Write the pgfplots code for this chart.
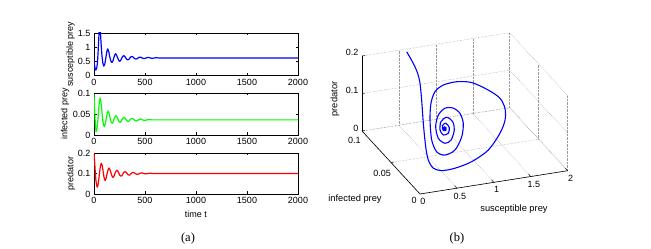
\documentclass[border=0pt]{standalone}
\usepackage{fontspec}
\setmainfont{Liberation Sans}
\newfontfamily\seriffont{Liberation Serif}
\usepackage{pgfplots}
\pgfplotsset{compat=1.18}
\definecolor{mblue}{RGB}{0,0,255}
\definecolor{mgreen}{RGB}{0,255,0}
\definecolor{mred}{RGB}{255,0,0}
\pgfplotsset{
  ts/.style={scale only axis, width=204pt, anchor=south west,
    xmin=0, xmax=2000, xtick={0,500,1000,1500,2000},
    xticklabels={0,500,1000,1500,2000},
    tick align=inside, major tick length=2.5pt,
    axis line style={line width=0.6pt},
    every tick/.style={black, line width=0.5pt},
    ticklabel style={font=\fontsize{9}{10}\selectfont},
    label style={font=\fontsize{9}{10}\selectfont},
    /pgf/number format/assume math mode=true,
    clip=true},
}
\begin{document}
\begin{tikzpicture}[x=1pt,y=1pt]
\useasboundingbox (0,0) rectangle (651,249);
% ---- panel (a): susceptible prey
\begin{axis}[ts, at={(94pt,173.5pt)}, height=42.5pt,
  ymin=0, ymax=1.5, ytick={0,0.5,1,1.5}, yticklabels={0,0.5,1,1.5},
  ylabel={susceptible prey},
  ylabel style={at={(axis description cs:-0.115,0.5)}, anchor=center, rotate=0}]
\addplot[mblue, line width=1.2pt, line join=round] coordinates {
(0,0.55)(6,0.35)(12,0.23)(18,0.19)(26,0.25)(34,0.45)(42,0.95)(50,1.55)(56,1.75)(62,1.6)
(70,1.1)(78,0.7)(86,0.45)(96,0.33)(106,0.4)(116,0.62)(126,0.85)(135,0.94)(145,0.84)(155,0.65)
(166,0.5)(176,0.46)(186,0.52)(196,0.64)(204,0.73)(212,0.77)(222,0.71)(232,0.62)(243,0.53)(253,0.50)
(263,0.54)(273,0.62)(283,0.68)(292,0.70)(302,0.67)(312,0.62)(322,0.57)(332,0.55)(342,0.57)(352,0.62)
(362,0.66)(372,0.67)(382,0.655)(392,0.62)(402,0.59)(412,0.58)(422,0.59)(432,0.62)(442,0.64)(452,0.645)
(462,0.64)(472,0.62)(482,0.605)(492,0.6)(502,0.605)(512,0.62)(522,0.632)(532,0.634)(542,0.632)(552,0.62)
(562,0.612)(572,0.61)(582,0.612)(592,0.62)(610,0.626)(630,0.62)(650,0.616)(670,0.62)(2000,0.62)};
\end{axis}
% ---- infected prey
\begin{axis}[ts, at={(94pt,114pt)}, height=42pt,
  ymin=0, ymax=0.1, ytick={0,0.05,0.1}, yticklabels={0,0.05,0.1},
  ylabel={infected prey},
  ylabel style={at={(axis description cs:-0.142,0.5)}, anchor=center, rotate=0}]
\addplot[mgreen, line width=1.2pt, line join=round] coordinates {
(0,0.097)(5,0.07)(10,0.04)(15,0.02)(21,0.008)(28,0.012)(36,0.03)(44,0.055)(52,0.078)(60,0.088)
(68,0.08)(76,0.06)(86,0.035)(95,0.022)(103,0.02)(112,0.028)(122,0.042)(131,0.053)(139,0.057)(148,0.052)
(158,0.04)(168,0.031)(178,0.028)(188,0.031)(198,0.039)(208,0.045)(217,0.046)(227,0.042)(237,0.036)(247,0.031)
(257,0.030)(267,0.033)(277,0.038)(287,0.041)(296,0.042)(306,0.04)(316,0.036)(326,0.033)(336,0.032)(346,0.034)
(356,0.037)(366,0.039)(376,0.039)(386,0.038)(396,0.036)(406,0.034)(416,0.0335)(426,0.034)(436,0.036)(446,0.0375)
(456,0.038)(466,0.0375)(476,0.036)(490,0.035)(505,0.035)(520,0.036)(535,0.0367)(550,0.0365)(565,0.036)(2000,0.036)};
\end{axis}
% ---- predator
\begin{axis}[ts, at={(94pt,55pt)}, height=41pt,
  ymin=0, ymax=0.2, ytick={0,0.1,0.2}, yticklabels={0,0.1,0.2},
  ylabel={predator}, xlabel={time t},
  ylabel style={at={(axis description cs:-0.113,0.5)}, anchor=center, rotate=0}]
\addplot[mred, line width=1.2pt, line join=round] coordinates {
(0,0.2)(6,0.16)(12,0.11)(18,0.07)(25,0.045)(32,0.033)(40,0.045)(48,0.075)(56,0.11)(64,0.14)
(72,0.15)(80,0.14)(88,0.115)(97,0.085)(104,0.07)(110,0.066)(118,0.075)(128,0.098)(138,0.118)(147,0.127)
(156,0.12)(166,0.104)(176,0.088)(186,0.081)(196,0.087)(205,0.1)(215,0.111)(225,0.116)(235,0.111)(245,0.1)
(255,0.09)(265,0.087)(275,0.09)(285,0.1)(295,0.107)(305,0.109)(315,0.106)(325,0.1)(335,0.094)(345,0.092)
(355,0.094)(365,0.1)(375,0.104)(385,0.105)(395,0.103)(405,0.1)(415,0.097)(425,0.096)(435,0.097)(445,0.1)
(455,0.102)(465,0.1025)(475,0.102)(485,0.1)(500,0.0985)(515,0.0985)(530,0.1)(545,0.101)(560,0.101)(575,0.1)(2000,0.1)};
\end{axis}
% ---- panel (b): phase portrait
\begin{axis}[at={(420pt,55pt)}, anchor=origin,
  x={(73.85pt,11.65pt)}, y={(-580pt,630pt)}, z={(0pt,375pt)},
  xmin=0, xmax=2, ymin=0, ymax=0.1, zmin=0, zmax=0.2,
  xtick={0,0.5,1,1.5,2}, xticklabels={0,0.5,1,1.5,2},
  ytick={0,0.05,0.1}, yticklabels={0,0.05,0.1},
  ztick={0,0.1,0.2}, zticklabels={0,0.1,0.2},
  grid=major, major grid style={densely dotted, black!40, line width=0.5pt},
  axis line style={draw=none},
  major tick length=0pt,
  ticklabel style={font=\fontsize{9}{10}\selectfont},
  /pgf/number format/assume math mode=true,
  clip=false]
\draw[black, line width=0.6pt] (axis cs:0,0,0) -- (axis cs:2,0,0);
\draw[black, line width=0.6pt] (axis cs:0,0,0) -- (axis cs:0,0.1,0);
\draw[black, line width=0.6pt] (axis cs:0,0.1,0) -- (axis cs:0,0.1,0.2);
% tick marks on the three labelled axes
\draw[black, line width=0.5pt] (axis cs:0.5,0,0) -- (axis cs:0.5,0.004,0);
\draw[black, line width=0.5pt] (axis cs:1,0,0) -- (axis cs:1,0.004,0);
\draw[black, line width=0.5pt] (axis cs:1.5,0,0) -- (axis cs:1.5,0.004,0);
\draw[black, line width=0.5pt] (axis cs:2,0,0) -- (axis cs:2,0.004,0);
\draw[black, line width=0.5pt] (axis cs:0,0.05,0) -- (axis cs:0.04,0.05,0);
\draw[black, line width=0.5pt] (axis cs:0,0.1,0) -- (axis cs:0.04,0.1,0);
\draw[black, line width=0.5pt] (axis cs:0,0.1,0.1) -- (axis cs:0.04,0.1,0.1);
\draw[black, line width=0.5pt] (axis cs:0,0.1,0.2) -- (axis cs:0.04,0.1,0.2);
\addplot3[mblue, line width=1.1pt, smooth, tension=0.5] coordinates {
(0.582,0.097,0.198)(0.600,0.088,0.182)(0.558,0.075,0.178)(0.487,0.062,0.176)(0.376,0.045,0.163)
(0.265,0.028,0.133)(0.187,0.014,0.097)(0.175,0.008,0.072)(0.243,0.008,0.048)(0.372,0.010,0.034)
(0.576,0.013,0.029)(0.857,0.020,0.026)(1.176,0.032,0.027)(1.460,0.048,0.036)(1.646,0.063,0.040)
(1.740,0.075,0.048)(1.735,0.083,0.062)(1.608,0.087,0.081)(1.375,0.086,0.110)(1.125,0.080,0.130)
(0.865,0.070,0.146)(0.659,0.058,0.155)(0.510,0.046,0.149)(0.387,0.032,0.132)(0.331,0.022,0.097)
(0.383,0.020,0.067)(0.519,0.023,0.049)(0.710,0.030,0.045)(0.879,0.040,0.058)(0.963,0.048,0.078)
(0.950,0.052,0.098)(0.867,0.053,0.113)(0.731,0.050,0.122)(0.586,0.043,0.120)(0.487,0.035,0.106)
(0.476,0.029,0.085)(0.566,0.029,0.069)(0.671,0.032,0.069)(0.763,0.038,0.083)(0.773,0.042,0.098)
(0.691,0.042,0.1125)(0.583,0.038,0.111)(0.538,0.034,0.097)(0.575,0.033,0.084)(0.658,0.035,0.083)
(0.695,0.038,0.092)(0.646,0.038,0.105)(0.585,0.036,0.103)(0.586,0.035,0.094)(0.628,0.036,0.089)
(0.643,0.037,0.094)(0.6145,0.036,0.0996)(0.5915,0.036,0.0963)(0.612,0.036,0.0912)(0.628,0.036,0.0947)
(0.6145,0.036,0.0975)(0.601,0.036,0.0953)(0.612,0.036,0.0928)(0.618,0.036,0.0942)(0.612,0.036,0.0946)};
\end{axis}
\node[font=\fontsize{9.3}{10}\selectfont] at (514,40) {susceptible prey};
\node[font=\fontsize{9.3}{10}\selectfont] at (355,50) {infected prey};
\node[font=\fontsize{9.3}{10}\selectfont, rotate=90] at (335,150) {predator};
\node[font=\seriffont\fontsize{12.5}{14}\selectfont] at (188,11) {(a)};
\node[font=\seriffont\fontsize{12.5}{14}\selectfont] at (457,11) {(b)};
\end{tikzpicture}
\end{document}
